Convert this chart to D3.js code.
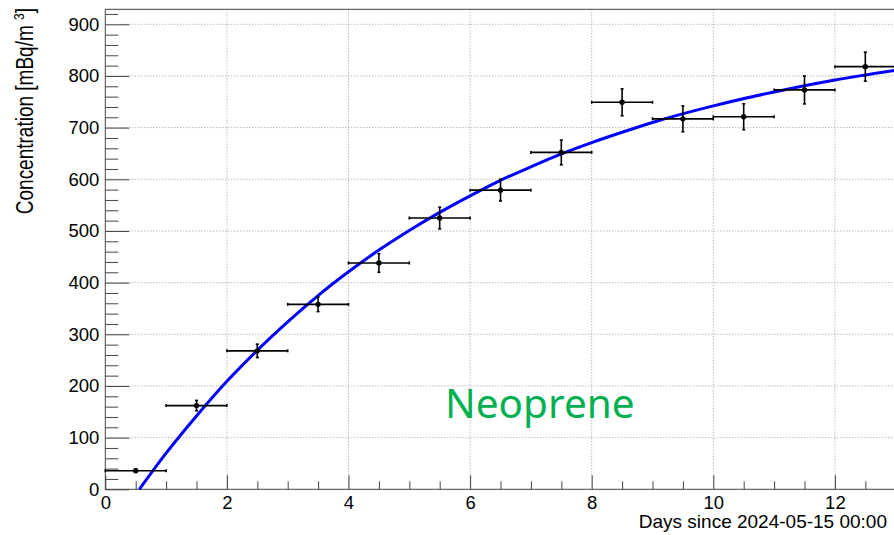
<!DOCTYPE html>
<html>
<head>
<meta charset="utf-8">
<script src="https://cdn.jsdelivr.net/npm/d3@7"></script>
<style>
  body { margin: 0; background: #fff; }
  svg { display: block; font-family: "Liberation Sans", Arial, sans-serif; }
</style>
</head>
<body>
<div id="chart"></div>
<script>
// measured points (bin centres, 1-day bins)
const days = [0.5, 1.5, 2.5, 3.5, 4.5, 5.5, 6.5, 7.5, 8.5, 9.5, 10.5, 11.5, 12.5];
const concentration = [36, 162, 268, 358, 438, 525, 579, 652, 749, 717, 721, 773, 818];
const concErr = [3, 10, 13, 14, 18, 21, 21, 24, 26, 25, 25, 27, 28];
const dayErr = [0.5, 0.5, 0.5, 0.5, 0.5, 0.5, 0.5, 0.5, 0.5, 0.5, 0.5, 0.5, 0.5];

// fit curve
const fitDays = [0.56, 1, 1.5, 2, 2.5, 3, 3.5, 4, 4.5, 5, 5.5, 6, 6.5, 7, 7.5, 8, 8.5, 9, 10, 11, 12, 13];
const fitValues = [0, 70, 142, 209, 269, 324, 375, 421, 463, 501, 536, 568, 598, 624, 649, 671, 691, 710, 742, 769, 792, 811];

const xTicks = [0, 2, 4, 6, 8, 10, 12];
const yTicks = [0, 100, 200, 300, 400, 500, 600, 700, 800, 900];

const width = 894, height = 535;
const plotLeft = 105.3, plotRight = 895.7, plotTop = 9.3, plotBottom = 489.3;

const svg = d3.select("#chart").append("svg")
    .attr("width", width)
    .attr("height", height);

const x = d3.scaleLinear().domain([0, 13]).range([plotLeft, plotRight]);
const y = d3.scaleLinear().domain([0, 929]).range([plotBottom, plotTop]);

// grid
const grid = svg.append("g")
    .attr("stroke", "#999")
    .attr("stroke-width", 1)
    .attr("stroke-dasharray", "1,2");
xTicks.filter(d => d > 0).forEach(d => {
    grid.append("line")
        .attr("x1", x(d)).attr("x2", x(d))
        .attr("y1", plotTop).attr("y2", plotBottom);
});
yTicks.filter(d => d > 0).forEach(d => {
    grid.append("line")
        .attr("x1", plotLeft).attr("x2", plotRight)
        .attr("y1", y(d)).attr("y2", y(d));
});

// frame
svg.append("rect")
    .attr("x", plotLeft).attr("y", plotTop)
    .attr("width", plotRight - plotLeft).attr("height", plotBottom - plotTop)
    .attr("fill", "none")
    .attr("stroke", "#444")
    .attr("stroke-width", 1);

// x axis ticks (upward, inside)
const xAxis = svg.append("g")
    .attr("transform", `translate(0,${plotBottom})`)
    .call(d3.axisBottom(x).tickValues(d3.range(0, 13.01, 0.5)).tickSize(-8).tickFormat(""));
xAxis.select(".domain").remove();
xAxis.selectAll(".tick line")
    .attr("stroke", "#444")
    .attr("y2", d => xTicks.includes(d) ? -14 : -8);

svg.append("g")
    .attr("transform", `translate(0,${plotBottom})`)
    .call(d3.axisBottom(x).tickValues(xTicks).tickSize(0).tickPadding(7).tickFormat(d3.format("d")))
    .call(g => g.select(".domain").remove())
    .selectAll("text")
    .attr("font-size", 18.5)
    .attr("font-family", "Liberation Sans, Arial, sans-serif")
    .attr("fill", "#000");

// y axis ticks (right, inside)
const yAxis = svg.append("g")
    .attr("transform", `translate(${plotLeft},0)`)
    .call(d3.axisRight(y).tickValues(d3.range(0, 921, 20)).tickSize(13).tickFormat(""));
yAxis.select(".domain").remove();
yAxis.selectAll(".tick line")
    .attr("stroke", "#444")
    .attr("x2", d => yTicks.includes(d) ? 24 : 13);

svg.append("g")
    .attr("transform", `translate(${plotLeft},0)`)
    .call(d3.axisLeft(y).tickValues(yTicks).tickSize(0).tickPadding(6))
    .call(g => g.select(".domain").remove())
    .selectAll("text")
    .attr("font-size", 18.5)
    .attr("font-family", "Liberation Sans, Arial, sans-serif")
    .attr("fill", "#000");

// axis titles
svg.append("text")
    .attr("x", 887)
    .attr("y", 528)
    .attr("text-anchor", "end")
    .attr("font-size", 19)
    .text("Days since 2024-05-15 00:00");

// ROOT draws the rotated title a bit taller than wide
const yTitle = svg.append("text")
    .attr("transform", "translate(33,8) rotate(-90) scale(1,1.25)")
    .attr("text-anchor", "end")
    .attr("font-size", 19);
yTitle.append("tspan").text("Concentration [mBq/m ");
yTitle.append("tspan").attr("font-size", 12).attr("dy", -7).text("3");
yTitle.append("tspan").attr("dy", 7).text("]");

// fit curve
const line = d3.line()
    .x((d, i) => x(fitDays[i]))
    .y(d => y(d))
    .curve(d3.curveMonotoneX);
svg.append("path")
    .datum(fitValues)
    .attr("d", line)
    .attr("fill", "none")
    .attr("stroke", "#0000ff")
    .attr("stroke-width", 3);

// error bars + markers
const pts = svg.append("g")
    .attr("stroke", "#000")
    .attr("stroke-width", 1.6);
days.forEach((d, i) => {
    const cx = x(d), cy = y(concentration[i]);
    const x0 = x(d - dayErr[i]), x1 = x(d + dayErr[i]);
    const y0 = y(concentration[i] - concErr[i]), y1 = y(concentration[i] + concErr[i]);
    pts.append("line").attr("x1", x0).attr("x2", x1).attr("y1", cy).attr("y2", cy);
    pts.append("line").attr("x1", x0).attr("x2", x0).attr("y1", cy - 1.5).attr("y2", cy + 1.5);
    pts.append("line").attr("x1", x1).attr("x2", x1).attr("y1", cy - 1.5).attr("y2", cy + 1.5);
    pts.append("line").attr("x1", cx).attr("x2", cx).attr("y1", y0).attr("y2", y1);
    pts.append("line").attr("x1", cx - 1.5).attr("x2", cx + 1.5).attr("y1", y0).attr("y2", y0);
    pts.append("line").attr("x1", cx - 1.5).attr("x2", cx + 1.5).attr("y1", y1).attr("y2", y1);
    pts.append("circle")
        .attr("cx", cx).attr("cy", cy).attr("r", 2.7)
        .attr("fill", "#000").attr("stroke", "none");
});

// annotation
svg.append("text")
    .attr("x", 445)
    .attr("y", 418)
    .attr("font-family", "Noto Sans, Open Sans, sans-serif")
    .attr("font-size", 40.5)
    .attr("fill", "#00b050")
    .text("Neoprene");
</script>
</body>
</html>
